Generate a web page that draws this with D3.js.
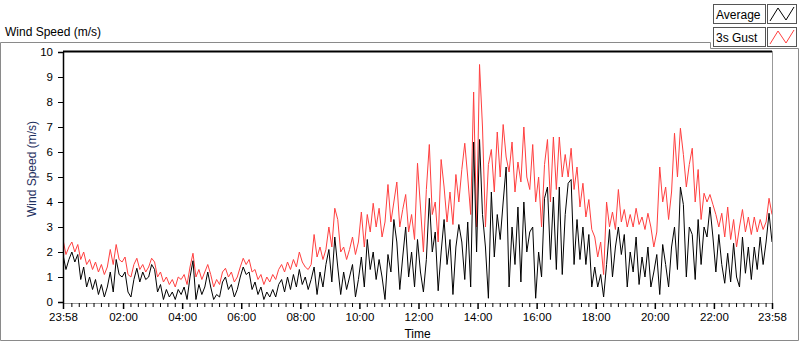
<!DOCTYPE html>
<html><head><meta charset="utf-8">
<script src="https://cdn.jsdelivr.net/npm/d3@7"></script>
<style>
body{margin:0;background:#fff;}
svg{display:block;font-family:"Liberation Sans",Arial,sans-serif;}
</style>
</head><body>
<svg id="c" width="800" height="342"></svg>
<script>
const startTime = "2023-06-01T23:58";
const endTime = "2023-06-02T23:58";
const stepMinutes = 6;
const gustValues = [
2.5,1.9,2.2,2.4,2.0,2.3,1.7,2.0,1.5,1.7,
1.3,1.6,1.2,1.5,1.1,1.4,2.1,1.5,2.3,1.7,
1.6,1.8,1.1,1.0,1.5,1.75,1.3,1.5,1.2,1.4,
1.75,1.6,1.0,1.2,0.8,1.0,0.7,0.9,0.6,1.0,
0.9,1.1,0.7,1.4,1.95,1.0,1.3,0.9,1.2,1.5,
1.1,0.6,0.9,0.7,1.2,1.35,1.0,1.2,0.8,1.0,
1.4,1.75,1.5,1.7,1.2,1.3,0.9,1.1,0.7,1.0,
0.8,1.1,0.9,1.3,1.5,1.2,1.6,1.3,1.7,1.4,
2.0,1.6,1.4,1.3,1.5,2.7,1.8,2.2,1.7,2.1,
3.0,2.2,3.75,3.3,2.0,2.2,1.7,2.1,2.6,1.9,
2.4,3.6,2.2,3.5,2.8,3.95,3.0,3.75,2.6,3.2,
4.7,3.2,4.0,4.8,3.0,3.7,4.3,2.8,3.5,2.5,
5.55,3.8,2.0,4.5,6.3,3.5,4.0,2.4,5.7,4.6,
3.2,4.4,3.1,5.1,4.0,5.3,6.35,5.0,3.5,8.4,
3.0,9.5,7.0,3.0,5.5,6.1,4.4,6.8,5.0,7.1,
5.8,5.2,6.4,4.4,5.6,4.8,7.0,5.0,4.5,6.3,
4.0,5.0,3.0,5.5,6.5,4.0,6.6,4.5,6.6,5.0,
5.9,5.0,6.15,4.5,5.4,3.8,4.75,3.4,4.1,2.9,
2.6,1.8,2.4,1.1,4.0,3.0,3.6,2.9,4.5,3.2,
3.7,3.0,3.5,3.0,3.75,3.1,3.4,2.9,3.55,3.0,
2.2,2.8,5.4,4.0,4.6,3.3,4.4,6.75,5.0,6.95,
5.9,4.6,5.5,6.15,4.0,5.3,3.3,4.35,4.0,4.3,
3.9,3.5,3.0,3.55,2.6,3.8,2.5,3.3,2.2,3.0,
3.7,2.8,3.4,2.7,3.4,2.8,3.3,2.9,3.2,4.15,3.5
];
const avgValues = [
1.9,1.3,1.7,2.0,1.6,1.9,0.9,1.4,0.6,1.0,
0.5,0.9,0.3,0.7,0.2,0.6,1.2,0.4,1.7,1.1,
1.0,1.2,0.4,0.2,0.9,1.35,0.8,1.2,0.9,1.0,
1.5,1.3,0.4,0.7,0.1,0.5,0.2,0.4,0.1,0.5,
0.3,0.6,0.1,1.0,1.65,0.1,0.7,0.3,0.6,1.2,
0.6,0.1,0.3,0.2,0.8,1.0,0.5,0.7,0.2,0.5,
1.0,1.4,1.1,1.2,0.5,0.8,0.3,0.6,0.1,0.4,
0.2,0.5,0.2,0.7,0.9,0.4,1.0,0.5,1.1,0.6,
1.3,0.7,1.0,0.5,0.9,1.4,0.3,1.2,0.6,1.5,
2.1,0.8,2.6,1.4,0.3,1.2,0.5,1.0,1.5,0.2,
0.9,1.8,0.6,2.5,1.3,2.0,0.9,1.7,1.0,0.1,
1.9,1.2,3.3,2.4,0.5,1.8,3.0,1.0,2.0,0.6,
2.5,1.2,0.4,1.7,4.15,2.0,2.8,0.45,2.0,3.3,
1.5,2.5,0.3,2.2,3.1,2.4,0.9,3.2,0.6,6.4,
2.0,6.5,3.5,2.2,0.15,4.4,1.8,3.5,2.5,4.0,
5.4,0.6,3.0,1.5,3.8,0.8,4.0,2.0,2.8,3.0,
0.15,2.0,1.0,4.15,4.6,1.7,4.2,1.3,4.6,1.1,
3.5,4.75,4.9,1.5,3.3,1.7,3.0,1.5,2.7,0.6,
1.4,0.6,1.1,0.2,1.5,2.9,1.0,2.2,3.0,1.9,
2.7,0.6,2.0,1.2,2.6,0.7,1.8,1.0,2.2,0.6,
1.2,1.9,0.3,2.3,1.5,0.6,2.2,3.0,1.3,4.6,
3.9,1.0,3.0,2.7,0.9,3.3,1.5,3.0,2.6,3.8,
2.6,1.2,2.7,1.5,0.75,1.95,0.8,2.35,1.0,0.6,
2.6,1.15,2.2,0.9,2.2,1.3,2.6,1.5,2.4,3.55,2.4
];
const yTicks = [0,1,2,3,4,5,6,7,8,9,10];
const xMajorTicks = ["2023-06-01T23:58","2023-06-02T02:00","2023-06-02T04:00","2023-06-02T06:00",
  "2023-06-02T08:00","2023-06-02T10:00","2023-06-02T12:00","2023-06-02T14:00","2023-06-02T16:00",
  "2023-06-02T18:00","2023-06-02T20:00","2023-06-02T22:00","2023-06-02T23:58"];
const seriesNames = ["Average","3s Gust"];
const seriesColors = ["#000000","#ff3f3f"];
const chartTitle = "Wind Speed (m/s)";
const yTitle = "Wind Speed (m/s)";
const xTitle = "Time";

const parse = d3.timeParse("%Y-%m-%dT%H:%M");
const t0 = parse(startTime), t1 = parse(endTime);
const times = avgValues.map((_, i) => d3.timeMinute.offset(t0, i * stepMinutes));

const svg = d3.select("#c");
const L = 63, R = 772, T = 52, B = 302;
const x = d3.scaleTime().domain([t0, t1]).range([L, R]);
const y = d3.scaleLinear().domain([0, 10]).range([B, T]);

// panel frame
svg.append("path")
  .attr("d", "M0.5,42.5 H710.5 V48.5 H798.5 V340.5 H0.5 Z")
  .attr("fill", "none").attr("stroke", "#8a8a8a");

// title
svg.append("text").attr("x", 5).attr("y", 36).attr("font-size", 12).attr("fill", "#000").text(chartTitle);

// legend
const lg = svg.append("g");
seriesNames.forEach((n, k) => {
  const yy = 4 + k * 23;
  lg.append("rect").attr("x", 713.5).attr("y", yy + 0.5).attr("width", 52).attr("height", 19)
    .attr("fill", "#fff").attr("stroke", "#555");
  lg.append("text").attr("x", 716).attr("y", yy + 15).attr("font-size", 12).attr("fill", "#000").text(n);
  lg.append("rect").attr("x", 767.5).attr("y", yy + 0.5).attr("width", 29).attr("height", 19)
    .attr("fill", "#fff").attr("stroke", "#555");
  lg.append("path").attr("d", `M770,${yy+17} L778,${yy+4} L786,${yy+16} L794,${yy+3}`)
    .attr("fill", "none").attr("stroke", seriesColors[k]).attr("stroke-width", 1);
});

// plot frame
svg.append("line").attr("x1", L).attr("x2", R).attr("y1", T - 0.5).attr("y2", T - 0.5)
  .attr("stroke", "#000").attr("stroke-width", 2);
svg.append("line").attr("x1", R + 0.5).attr("x2", R + 0.5).attr("y1", T - 1).attr("y2", B + 1)
  .attr("stroke", "#999");

// clip
svg.append("clipPath").attr("id", "clip").append("rect")
  .attr("x", L).attr("y", T).attr("width", R - L).attr("height", B - T + 1);

const line = d3.line().x((d, i) => x(times[i])).y(d => y(d));
const g = svg.append("g").attr("clip-path", "url(#clip)");
g.append("path").datum(gustValues).attr("d", line).attr("fill", "none")
  .attr("stroke", seriesColors[1]).attr("stroke-width", 1);
g.append("path").datum(avgValues).attr("d", line).attr("fill", "none")
  .attr("stroke", seriesColors[0]).attr("stroke-width", 1);

// y axis
const ya = svg.append("g").attr("transform", `translate(${L},0)`)
  .call(d3.axisLeft(y).tickValues(yTicks).tickSize(5).tickPadding(5).tickFormat(d3.format("d")));
ya.select(".domain").attr("stroke", "#000").attr("stroke-width", 1.5);
ya.selectAll(".tick line").attr("stroke", "#000");
ya.selectAll("text").attr("font-size", 11.5).attr("font-family", "Liberation Sans, Arial").attr("fill", "#000");

// x axis
const majors = xMajorTicks.map(parse);
const minors = d3.timeMinute.every(15).range(t0, t1)
  .filter(t => Math.abs(t - t0) > 5 * 60000 && Math.abs(t1 - t) > 5 * 60000 && t.getMinutes() % 60 !== 0 || (t.getMinutes() === 0 && t.getHours() % 2 === 1))
  .filter(t => !(t.getMinutes() === 0 && t.getHours() === 0));
const xa = svg.append("g").attr("transform", `translate(0,${B + 1})`);
xa.append("line").attr("x1", L).attr("x2", R).attr("y1", 0.5).attr("y2", 0.5).attr("stroke", "#999");
xa.append("g").call(d3.axisBottom(x).tickValues(minors).tickSize(4).tickFormat(""))
  .call(s => s.select(".domain").remove())
  .selectAll(".tick line").attr("stroke", "#000");
const xm = xa.append("g").call(d3.axisBottom(x).tickValues(majors).tickSize(6).tickPadding(4).tickFormat(d3.timeFormat("%H:%M")));
xm.select(".domain").remove();
xm.selectAll(".tick line").attr("stroke", "#000").attr("stroke-width", 1.5);
xm.selectAll("text").attr("font-size", 11.5).attr("font-family", "Liberation Sans, Arial").attr("fill", "#000");

// axis titles
svg.append("text").attr("x", (L + R) / 2).attr("y", 338).attr("text-anchor", "middle")
  .attr("font-size", 12).attr("fill", "#000").text(xTitle);
svg.append("text").attr("transform", `translate(36,169) rotate(-90)`).attr("text-anchor", "middle")
  .attr("font-size", 12).attr("fill", "#1e2f5e").text(yTitle);
</script>
</body></html>
